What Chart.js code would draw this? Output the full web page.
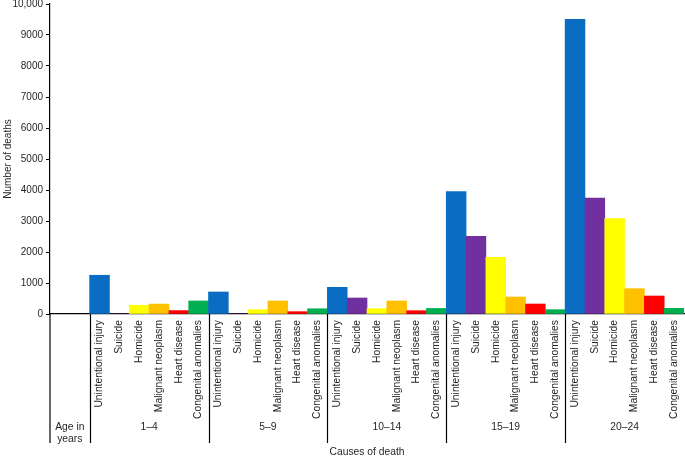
<!DOCTYPE html>
<html>
<head>
<meta charset="utf-8">
<script src="https://cdn.jsdelivr.net/npm/chart.js@4/dist/chart.umd.min.js"></script>
<style>
html,body{margin:0;padding:0;background:#fff;}
#c{display:block;}
</style>
</head>
<body>
<canvas id="c" width="685" height="458"></canvas>
<script>
const causes = ['Unintentional injury','Suicide','Homicide','Malignant neoplasm','Heart disease','Congenital anomalies'];
const causeColors = ['#0a6cc2','#7030a0','#ffff00','#ffc000','#ff0000','#00b050'];
const ageGroups = ['1–4','5–9','10–14','15–19','20–24'];
const deaths_1_4   = [1250, 0, 280, 320, 110, 420];
const deaths_5_9   = [710, 0, 140, 420, 75, 170];
const deaths_10_14 = [860, 516, 170, 420, 107, 180];
const deaths_15_19 = [3950, 2505, 1828, 548, 322, 140];
const deaths_20_24 = [9505, 3742, 3075, 817, 580, 183];
const yTicks = [0,1000,2000,3000,4000,5000,6000,7000,8000,9000,10000];
const yTickLabels = ['0','1000','2000','3000','4000','5000','6000','7000','8000','9000','10,000'];

const groups = [deaths_1_4, deaths_5_9, deaths_10_14, deaths_15_19, deaths_20_24];
const LEAD = 2; // empty slots before first group (table header column)
const labels = [];
const values = [];
const colors = [];
for (let i = 0; i < LEAD; i++) { labels.push(''); values.push(null); colors.push('#fff'); }
groups.forEach(g => {
  g.forEach((v, j) => { labels.push(causes[j]); values.push(v); colors.push(causeColors[j]); });
});

const FONT = 'Liberation Sans, Arial, Helvetica, sans-serif';
const TXT = '#231f20';

const tablePlugin = {
  id: 'table',
  afterDraw(chart) {
    const ctx = chart.ctx;
    const x = chart.scales.x;
    const area = chart.chartArea;
    const w = x.getPixelForValue(1) - x.getPixelForValue(0);
    const bottomY = 443;
    ctx.save();
    ctx.strokeStyle = '#000';
    ctx.lineWidth = 1.2;
    ctx.beginPath();
    ctx.moveTo(area.left, area.bottom);
    ctx.lineTo(area.left, bottomY);
    ctx.stroke();
    for (let k = 0; k < groups.length; k++) {
      const idx = LEAD + k * causes.length;
      const px = Math.round(x.getPixelForValue(idx) - w / 2) + 0.5;
      ctx.beginPath();
      ctx.moveTo(px, area.bottom);
      ctx.lineTo(px, bottomY);
      ctx.stroke();
    }
    ctx.fillStyle = TXT;
    ctx.font = '10.3px ' + FONT;
    ctx.textAlign = 'center';
    ctx.textBaseline = 'middle';
    for (let k = 0; k < groups.length; k++) {
      const i0 = LEAD + k * causes.length;
      const i1 = i0 + causes.length - 1;
      const cx = (x.getPixelForValue(i0) + x.getPixelForValue(i1)) / 2;
      ctx.fillText(ageGroups[k], cx, 427);
    }
    const hx = (area.left + x.getPixelForValue(LEAD) - w / 2) / 2;
    ctx.fillText('Age in', hx, 427);
    ctx.fillText('years', hx, 439);
    ctx.fillText('Causes of death', (area.left + area.right) / 2, 452);
    ctx.restore();
  }
};

new Chart(document.getElementById('c'), {
  type: 'bar',
  data: {
    labels: labels,
    datasets: [{
      data: values,
      backgroundColor: colors,
      borderWidth: 0,
      barPercentage: 1,
      categoryPercentage: 1
    }]
  },
  options: {
    responsive: false,
    animation: false,
    devicePixelRatio: 1,
    layout: { padding: { top: 4, right: 1, left: 0, bottom: 0 } },
    plugins: { legend: { display: false }, tooltip: { enabled: false } },
    scales: {
      x: {
        type: 'category',
        offset: true,
        grid: { display: false, drawTicks: false },
        border: { color: '#000', width: 1.2 },
        ticks: {
          autoSkip: false,
          minRotation: 90,
          maxRotation: 90,
          padding: 6,
          color: TXT,
          font: { family: FONT, size: 10.3 }
        },
        afterFit(s) { s.height = 144; s.paddingRight = 0; s.paddingLeft = 0; }
      },
      y: {
        min: 0,
        max: 10000,
        afterBuildTicks(s) { s.ticks = yTicks.map(v => ({ value: v })); },
        grid: { drawOnChartArea: false, drawTicks: true, tickLength: 4, color: '#000', tickColor: '#000' },
        border: { color: '#000', width: 1.2 },
        ticks: {
          padding: 3,
          color: TXT,
          font: { family: FONT, size: 10 },
          callback(v) { const i = yTicks.indexOf(v); return i >= 0 ? yTickLabels[i] : ''; }
        },
        title: {
          display: true,
          text: 'Number of deaths',
          color: TXT,
          font: { family: FONT, size: 10 },
          padding: { top: 2, bottom: 0 }
        },
        afterFit(s) { s.width = 50; s.paddingTop = 0; s.paddingBottom = 0; }
      }
    }
  },
  plugins: [tablePlugin]
});
</script>
</body>
</html>
